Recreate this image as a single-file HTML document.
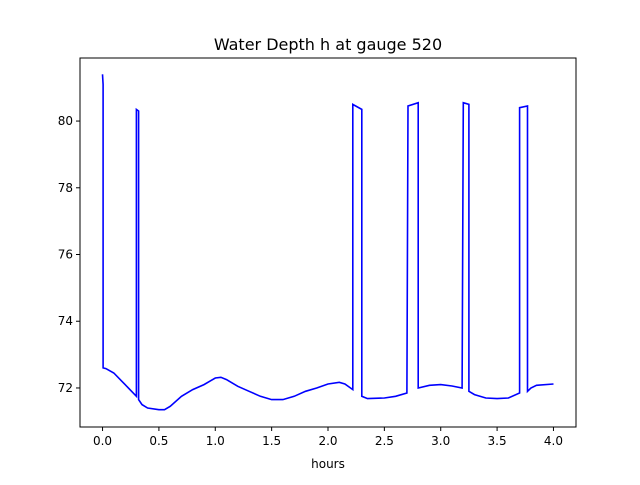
<!DOCTYPE html>
<html><head><meta charset="utf-8"><style>
body{margin:0;background:#fff;font-family:"Liberation Sans","DejaVu Sans",sans-serif}
svg text{font-family:"DejaVu Sans","Liberation Sans",sans-serif}
</style></head><body>
<svg id="chart" width="640" height="480" viewBox="0 0 640 480">
<rect width="640" height="480" fill="#fff"/>
<text x="328" y="50" font-size="16" text-anchor="middle">Water Depth h at gauge 520</text>
<g id="xt"></g>
<g id="yt"></g>
<path id="line" fill="none" stroke="#0000ff" stroke-width="1.6"/>
<rect x="80" y="58" width="496" height="369" fill="none" stroke="#000" stroke-width="1"/>
<text x="328" y="468" font-size="12" text-anchor="middle">hours</text>
</svg>
<script>
const hours=[0,0.005,0.005,0.03,0.1,0.2,0.3,0.3,0.32,0.32,0.35,0.4,0.5,0.55,0.6,0.7,0.8,0.9,1.0,1.05,1.1,1.2,1.3,1.4,1.5,1.6,1.7,1.8,1.9,2.0,2.1,2.15,2.22,2.22,2.3,2.3,2.35,2.5,2.6,2.7,2.71,2.8,2.8,2.9,3.0,3.1,3.19,3.2,3.25,3.25,3.3,3.4,3.5,3.6,3.7,3.7,3.77,3.77,3.8,3.85,4.0];
const depth=[81.4,81.1,72.6,72.58,72.45,72.1,71.75,80.35,80.3,71.65,71.5,71.4,71.35,71.35,71.45,71.75,71.95,72.1,72.3,72.32,72.25,72.05,71.9,71.75,71.65,71.65,71.75,71.9,72.0,72.12,72.17,72.12,71.95,80.5,80.35,71.75,71.68,71.7,71.75,71.85,80.45,80.55,72.0,72.08,72.1,72.06,72.0,80.55,80.5,71.9,71.8,71.7,71.68,71.7,71.85,80.4,80.45,71.9,72.0,72.08,72.12];
const xTicks=[0,0.5,1.0,1.5,2.0,2.5,3.0,3.5,4.0];
const yTicks=[72,74,76,78,80];
const X0=80,X1=576,Y0=427,Y1=58,xmin=-0.2,xmax=4.2,ymin=70.83,ymax=81.89;
const sx=v=>X0+(v-xmin)/(xmax-xmin)*(X1-X0);
const sy=v=>Y0-(v-ymin)/(ymax-ymin)*(Y0-Y1);
const NS="http://www.w3.org/2000/svg";
const xt=document.getElementById('xt'),yt=document.getElementById('yt');
xTicks.forEach(t=>{
 const l=document.createElementNS(NS,'line');
 
 
 l.setAttribute('x1',sx(t));l.setAttribute('x2',sx(t));l.setAttribute('y1',Y0);l.setAttribute('y2',Y0+4);l.setAttribute('stroke','#000');
 xt.appendChild(l);
 const tx=document.createElementNS(NS,'text');
 
 
 tx.setAttribute('x',sx(t));tx.setAttribute('y',Y0+18);tx.setAttribute('font-size','12');tx.setAttribute('text-anchor','middle');
 tx.textContent=t.toFixed(1);xt.appendChild(tx);
});
yTicks.forEach(t=>{
 const l=document.createElementNS(NS,'line');
 
 
 l.setAttribute('x1',X0-4);l.setAttribute('x2',X0);l.setAttribute('y1',sy(t));l.setAttribute('y2',sy(t));l.setAttribute('stroke','#000');
 yt.appendChild(l);
 const tx=document.createElementNS(NS,'text');
 
 
 tx.setAttribute('x',X0-7);tx.setAttribute('y',sy(t)+4);tx.setAttribute('font-size','12');tx.setAttribute('text-anchor','end');
 tx.textContent=t;yt.appendChild(tx);
});
document.getElementById('line').setAttribute('d',hours.map((h,i)=>(i?'L':'M')+sx(h).toFixed(1)+','+sy(depth[i]).toFixed(1)).join(''));
</script>
</body></html>
